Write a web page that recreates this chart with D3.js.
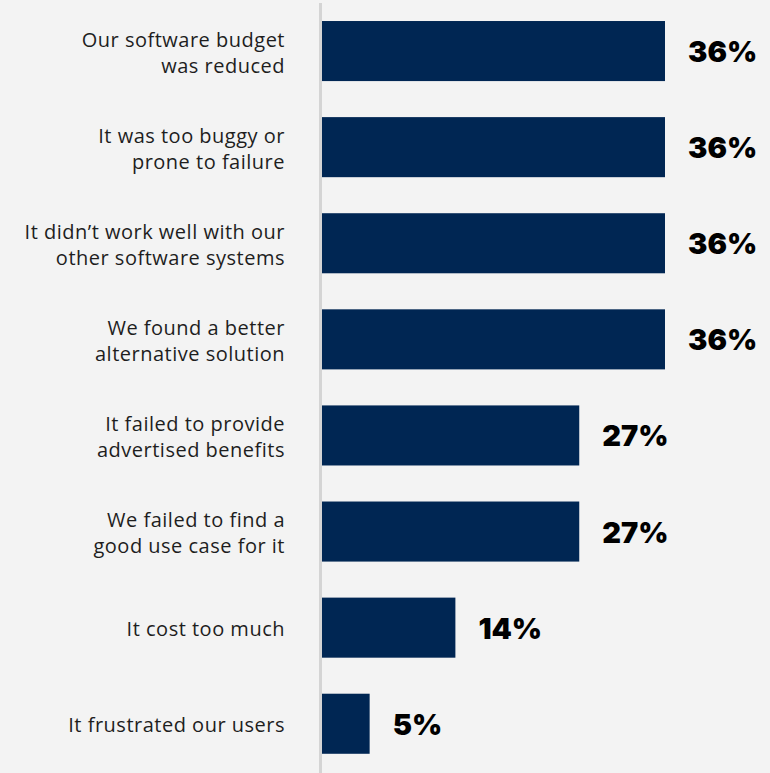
<!DOCTYPE html>
<html>
<head>
<meta charset="utf-8">
<script src="https://cdn.jsdelivr.net/npm/d3@7"></script>
<style>
  html, body { margin: 0; padding: 0; background: #f3f3f3; }
  svg { display: block; }
</style>
</head>
<body>
<div id="chart"></div>
<script>
// Reasons for abandoning software, share of respondents
const reasons = [
  ["Our software budget", "was reduced"],
  ["It was too buggy or", "prone to failure"],
  ["It didn\u2019t work well with our", "other software systems"],
  ["We found a better", "alternative solution"],
  ["It failed to provide", "advertised benefits"],
  ["We failed to find a", "good use case for it"],
  ["It cost too much"],
  ["It frustrated our users"]
];
const shares = [36, 36, 36, 36, 27, 27, 14, 5];
const valueLabels = ["36%", "36%", "36%", "36%", "27%", "27%", "14%", "5%"];

const width = 770, height = 773;
const x0 = 322;

const svg = d3.select("#chart").append("svg")
  .attr("width", width).attr("height", height);

svg.append("rect").attr("width", width).attr("height", height).attr("fill", "#f3f3f3");

const idx = d3.range(shares.length);

const y = d3.scaleBand()
  .domain(idx)
  .range([3, 3 + 8 * 96.1])
  .paddingInner(0.375)
  .paddingOuter(0.1875);

const x = d3.scaleLinear()
  .domain([0, 36])
  .range([x0, 665]);

// bars
svg.append("g").selectAll("rect")
  .data(idx)
  .join("rect")
  .attr("x", x(0))
  .attr("y", i => y(i))
  .attr("width", i => x(shares[i]) - x(0))
  .attr("height", y.bandwidth())
  .attr("fill", "#002653");

// vertical baseline
svg.append("line")
  .attr("x1", x0 - 1.5).attr("x2", x0 - 1.5)
  .attr("y1", 3).attr("y2", height)
  .attr("stroke", "#d4d4d4")
  .attr("stroke-width", 3);

// category labels
const cat = svg.append("g").selectAll("text")
  .data(idx)
  .join("text")
  .attr("text-anchor", "end")
  .attr("font-family", "'Open Sans', 'Noto Sans', sans-serif")
  .attr("font-size", 20)
  .attr("letter-spacing", 0.5)
  .attr("fill", "#1e1e1e")
  .attr("x", 285)
  .attr("y", i => y(i) + y.bandwidth() / 2);

cat.each(function(i) {
  const lines = reasons[i];
  const lh = 26;
  const start = -(lines.length - 1) * lh / 2 + 8.5;
  d3.select(this).selectAll("tspan")
    .data(lines)
    .join("tspan")
    .attr("x", 285)
    .attr("dy", (d, k) => k === 0 ? start : lh)
    .text(d => d);
});

// value labels
svg.append("g").selectAll("text")
  .data(idx)
  .join("text")
  .attr("x", i => x(shares[i]) + 23)
  .attr("y", i => y(i) + y.bandwidth() / 2 + 11)
  .attr("font-family", "Inter, Lato, sans-serif")
  .attr("font-weight", 900)
  .attr("font-size", 29)
  .attr("fill", "#000")
  .text(i => valueLabels[i]);
</script>
</body>
</html>
